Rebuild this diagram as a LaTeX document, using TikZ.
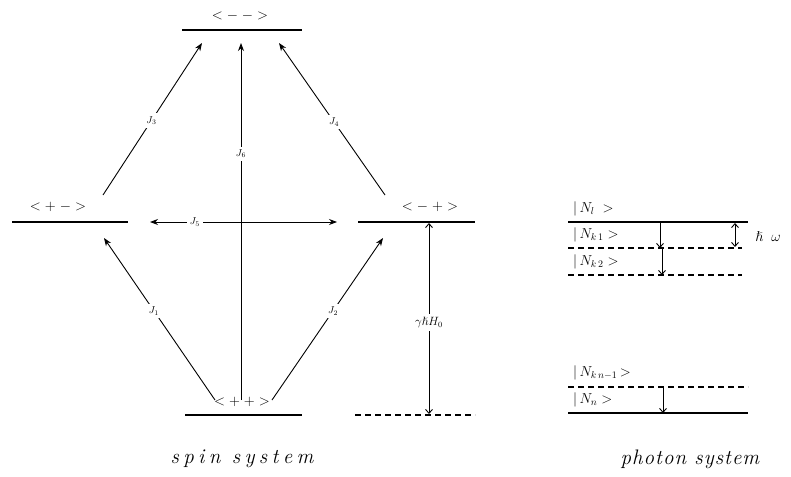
\documentclass[tikz,border=0pt]{standalone}
\usepackage{amssymb}
\usetikzlibrary{arrows.meta}
\newcommand\lsA{\kern4.3pt}
\newcommand\lsB{\kern1pt}
\begin{document}
\begin{tikzpicture}[x=1pt,y=-1pt,
  level/.style={line width=1.3pt},
  dlevel/.style={line width=1.1pt,dash pattern=on 6pt off 4pt},
  jarrow/.style={line width=0.9pt,-{Stealth[length=8pt,width=6pt]}},
  jboth/.style={line width=0.9pt,{Stealth[length=8pt,width=6pt]}-{Stealth[length=8pt,width=6pt]}},
  barb/.style={line width=0.9pt,-{Straight Barb[length=4pt,width=7pt]}},
  barbboth/.style={line width=0.9pt,{Straight Barb[length=4pt,width=7pt]}-{Straight Barb[length=4pt,width=7pt]}},
  lab/.style={font=\Large,inner sep=1pt},
  plab/.style={font=\Large,inner sep=0pt,anchor=west},
  jlab/.style={font=\normalsize,fill=white,inner sep=3pt},
  captxt/.style={font=\fontsize{21}{24}\selectfont\itshape}
]
\useasboundingbox (0,0) rectangle (791,476);

% spin levels
\coordinate (mmL) at (182,30);  \coordinate (mmR) at (302,30);
\coordinate (pmL) at (12,222);  \coordinate (pmR) at (128,222);
\coordinate (mpL) at (358,222); \coordinate (mpR) at (475,222);
\coordinate (ppL) at (185,415); \coordinate (ppR) at (302,415);
\coordinate (dsL) at (355,415); \coordinate (dsR) at (475,415);
\draw[level] (mmL) -- (mmR);
\draw[level] (pmL) -- (pmR);
\draw[level] (mpL) -- (mpR);
\draw[level] (ppL) -- (ppR);
\draw[dlevel] (dsL) -- (dsR);
\node[lab] (mm) at (240,16)  {${<}\;{-}\;{-}\;{>}$};
\node[lab] (pm) at (58,207)  {${<}\;{+}\;{-}\;{>}$};
\node[lab] (mp) at (430,207) {${<}\;{-}\;{+}\;{>}$};
\node[lab] (pp) at (242,402) {${<}\;{+}\;{+}\;{>}$};

% transitions
\coordinate (j1s) at (215,400); \coordinate (j1e) at (104,238);
\coordinate (j2s) at (272,400); \coordinate (j2e) at (383,238);
\coordinate (j3s) at (103,195); \coordinate (j3e) at (202,43);
\coordinate (j4s) at (385,195); \coordinate (j4e) at (279,43);
\coordinate (j6s) at (241,400); \coordinate (j6e) at (241,43);
\coordinate (j5s) at (150,222); \coordinate (j5e) at (337,222);
\draw[jarrow] (j1s) -- (j1e) node[jlab,pos=0.55] (J1) {$J_1$};
\draw[jarrow] (j2s) -- (j2e) node[jlab,pos=0.55] (J2) {$J_2$};
\draw[jarrow] (j3s) -- (j3e) node[jlab,pos=0.49] (J3) {$J_3$};
\draw[jarrow] (j4s) -- (j4e) node[jlab,pos=0.48] (J4) {$J_4$};
\draw[jarrow] (j6s) -- (j6e) node[jlab,pos=0.69] (J6) {$J_6$};
\draw[jboth] (j5s) -- (j5e) node[jlab,pos=0.24] (J5) {$J_5$};

% Zeeman gap
\coordinate (zt) at (429,223); \coordinate (zb) at (429,414);
\draw[barbboth] (zt) -- (zb) node[fill=white,pos=0.52,inner sep=3pt,font=\large] (gH) {$\gamma\hslash H_0$};

% photon levels
\coordinate (nlL) at (568,222);  \coordinate (nlR) at (748,222);
\coordinate (k1L) at (568,248);  \coordinate (k1R) at (742,248);
\coordinate (k2L) at (568,275);  \coordinate (k2R) at (742,275);
\coordinate (knL) at (568,387);  \coordinate (knR) at (748,387);
\coordinate (nnL) at (568,413);  \coordinate (nnR) at (748,413);
\draw[level] (nlL) -- (nlR);
\draw[dlevel] (k1L) -- (k1R);
\draw[dlevel] (k2L) -- (k2R);
\draw[dlevel] (knL) -- (knR);
\draw[level] (nnL) -- (nnR);
\node[plab] (Nl)  at (573,209) {$|\,N_l\;\;{>}$};
\node[plab] (Nk1) at (573,235) {$|\,N_{k\,1}\;{>}$};
\node[plab] (Nk2) at (573,262) {$|\,N_{k\,2}\;{>}$};
\node[plab] (Nkn) at (573,373) {$|\,N_{k\,n-1}\,{>}$};
\node[plab] (Nn)  at (573,400) {$|\,N_n\;{>}$};

\coordinate (a1t) at (660,222); \coordinate (a1b) at (660,248);
\coordinate (a2t) at (662,248); \coordinate (a2b) at (662,275);
\coordinate (a3t) at (663,387); \coordinate (a3b) at (663,413);
\coordinate (hwt) at (735,223); \coordinate (hwb) at (735,247);
\draw[barb] (a1t) -- (a1b);
\draw[barb] (a2t) -- (a2b);
\draw[barb] (a3t) -- (a3b);
\draw[barbboth] (hwt) -- (hwb);
\node[font=\Large] (hw) at (768,237) {$\hslash\;\;\omega$};

% captions
\node[captxt] (spin) at (242,459) {s\lsA p\lsA i\lsA n\lsA\ s\lsA y\lsA s\lsA t\lsA e\lsA m};
\node[captxt] (phot) at (690,459) {p\lsB h\lsB o\lsB t\lsB o\lsB n\lsB\ s\lsB y\lsB s\lsB t\lsB e\lsB m};
\end{tikzpicture}
\end{document}
